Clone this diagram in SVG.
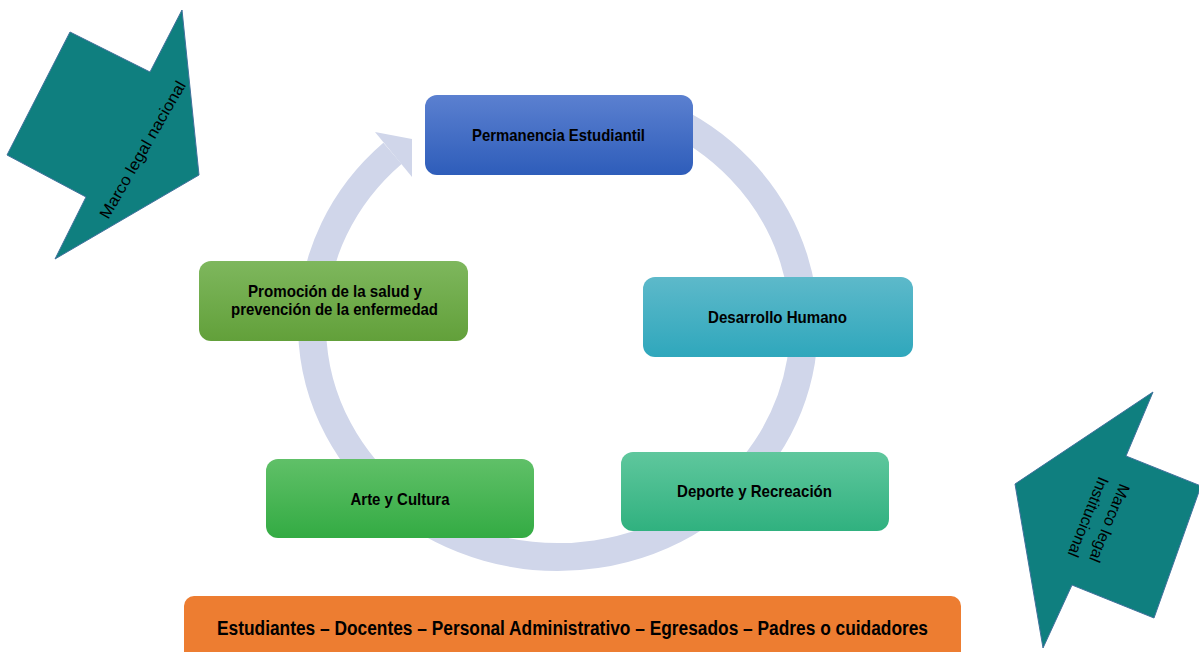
<svg xmlns="http://www.w3.org/2000/svg" width="1199" height="652" viewBox="0 0 1199 652">
<defs>
<linearGradient id="gBlue" x1="0" y1="0" x2="0" y2="1"><stop offset="0" stop-color="#5B80D0"/><stop offset="1" stop-color="#2E5DBA"/></linearGradient>
<linearGradient id="gTeal" x1="0" y1="0" x2="0" y2="1"><stop offset="0" stop-color="#5DB9CA"/><stop offset="1" stop-color="#2FA7BC"/></linearGradient>
<linearGradient id="gSea" x1="0" y1="0" x2="0" y2="1"><stop offset="0" stop-color="#5FC79D"/><stop offset="1" stop-color="#30B17F"/></linearGradient>
<linearGradient id="gGreen" x1="0" y1="0" x2="0" y2="1"><stop offset="0" stop-color="#60C068"/><stop offset="1" stop-color="#33AB43"/></linearGradient>
<linearGradient id="gOlive" x1="0" y1="0" x2="0" y2="1"><stop offset="0" stop-color="#7EB75D"/><stop offset="1" stop-color="#62A03A"/></linearGradient>
</defs>
<style>
.lbl{font-family:"Liberation Sans Narrow","Liberation Sans",Arial,sans-serif;font-weight:bold;fill:#000;text-anchor:middle;font-size:17px}
.big{font-family:"Liberation Sans Narrow","Liberation Sans",Arial,sans-serif;font-weight:bold;fill:#000;text-anchor:middle;font-size:20px}
.side{font-family:"Liberation Sans",Arial,sans-serif;font-size:16px;fill:#000;text-anchor:middle}
.shape{fill:#0F7F7F;stroke:#41719C;stroke-width:1}
.ring{fill:none;stroke:#D0D6EA;stroke-width:28}
</style>

<g id="connectors">
<path class="ring" d="M660,113.9 A246,232 0 1 1 392.5,153.4"/>
<polygon points="375,132 412,139 412,177" fill="#D0D6EA"/>
</g>

<g id="marco-nacional">
<polygon class="shape" points="70,32 150,72 182,10 199,175 55,259 86,197 7,155"/>
<text class="side" transform="translate(143,150) rotate(-60)" x="0" y="5" textLength="156" lengthAdjust="spacingAndGlyphs">Marco legal nacional</text>
</g>

<g id="marco-institucional">
<polygon class="shape" points="1153,392 1126,456 1201,486 1154,618 1072,585 1043,648 1015,484"/>
<text class="side" transform="translate(1098,521) rotate(112)">
<tspan x="0" y="-6">Marco legal</tspan>
<tspan x="0" y="16">Institucional</tspan>
</text>
</g>

<g id="permanencia">
<rect x="425" y="95" width="268" height="80" rx="12" fill="url(#gBlue)"/>
<text class="lbl" x="558.5" y="141" textLength="173" lengthAdjust="spacingAndGlyphs">Permanencia Estudiantil</text>
</g>

<g id="desarrollo">
<rect x="643" y="277" width="270" height="80" rx="12" fill="url(#gTeal)"/>
<text class="lbl" x="777.5" y="323" textLength="139" lengthAdjust="spacingAndGlyphs">Desarrollo Humano</text>
</g>

<g id="deporte">
<rect x="621" y="452" width="268" height="79" rx="12" fill="url(#gSea)"/>
<text class="lbl" x="754.5" y="497" textLength="155" lengthAdjust="spacingAndGlyphs">Deporte y Recreación</text>
</g>

<g id="arte">
<rect x="266" y="459" width="268" height="79" rx="12" fill="url(#gGreen)"/>
<text class="lbl" x="400" y="504.5" textLength="99" lengthAdjust="spacingAndGlyphs">Arte y Cultura</text>
</g>

<g id="promocion">
<rect x="199" y="261" width="269" height="80" rx="12" fill="url(#gOlive)"/>
<text class="lbl" x="335" y="297" textLength="174" lengthAdjust="spacingAndGlyphs">Promoción de la salud y</text>
<text class="lbl" x="334.5" y="315" textLength="207" lengthAdjust="spacingAndGlyphs">prevención de la enfermedad</text>
</g>

<g id="actores">
<rect x="184" y="596" width="777" height="70" rx="10" fill="#ED7D31"/>
<text class="big" x="572.5" y="635" textLength="711" lengthAdjust="spacingAndGlyphs">Estudiantes – Docentes – Personal Administrativo – Egresados – Padres o cuidadores</text>
</g>
</svg>
